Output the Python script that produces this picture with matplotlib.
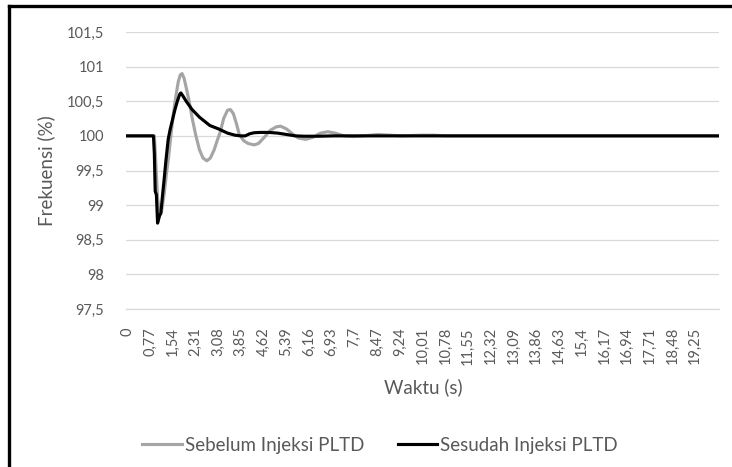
"""Frekuensi sebelum / sesudah injeksi PLTD (gaya grafik Excel)."""

import matplotlib

matplotlib.use("Agg")
import matplotlib.pyplot as plt
from matplotlib.lines import Line2D

plt.rcParams.update({
    "font.family": ["Lato", "DejaVu Sans"],
    "text.color": "#595959",
    "axes.labelcolor": "#595959",
    "xtick.color": "#595959",
    "ytick.color": "#595959",
})

# --- data ------------------------------------------------------------------
t_sebelum = [0, 0.92, 0.96, 1.03, 1.10, 1.16, 1.25, 1.33, 1.40, 1.48, 1.56,
             1.65, 1.73, 1.80, 1.86, 1.93, 2.01, 2.10, 2.21, 2.33, 2.45, 2.57,
             2.70, 2.82, 2.95, 3.05, 3.15, 3.27, 3.40, 3.50, 3.60, 3.70, 3.80,
             3.95, 4.10, 4.30, 4.45, 4.65, 4.85, 5.05, 5.20, 5.40, 5.60, 5.80,
             6.05, 6.30, 6.55, 6.80, 7.05, 7.35, 7.65, 8.0, 8.5, 8.9, 9.3,
             10.0, 10.4, 10.8, 20.02]
f_sebelum = [100, 100, 99.7, 99.1, 98.87, 98.9, 99.15, 99.45, 99.68, 100.0,
             100.3, 100.57, 100.78, 100.88, 100.90, 100.83, 100.68, 100.50,
             100.24, 100.0, 99.80, 99.68, 99.64, 99.68, 99.80, 99.93, 100.05,
             100.25, 100.37, 100.38, 100.32, 100.18, 100.02, 99.93, 99.89,
             99.87, 99.89, 99.98, 100.08, 100.13, 100.14, 100.10, 100.03,
             99.97, 99.95, 99.98, 100.04, 100.06, 100.04, 100.0, 99.99, 100.0,
             100.02, 100.01, 100.0, 100.01, 100.01, 100.0, 100.0]

t_sesudah = [0, 0.89, 0.92, 0.95, 0.99, 1.03, 1.10, 1.14, 1.20, 1.25, 1.31,
             1.39, 1.46, 1.54, 1.62, 1.70, 1.78, 1.82, 1.90, 2.0, 2.2, 2.45,
             2.8, 3.1, 3.4, 3.65, 3.85, 4.0, 4.15, 4.30, 4.50, 4.80, 5.10,
             5.40, 5.70, 6.0, 6.5, 7.0, 20.02]
f_sesudah = [100, 100, 99.75, 99.2, 99.15, 98.74, 98.85, 98.88, 99.15, 99.36,
             99.63, 99.95, 100.1, 100.24, 100.38, 100.50, 100.6, 100.62,
             100.57, 100.50, 100.38, 100.27, 100.15, 100.10, 100.04, 100.01,
             100.0, 100.0, 100.03, 100.045, 100.05, 100.05, 100.04, 100.02,
             100.0, 99.995, 99.995, 100.0, 100.0]

x_labels = ["0", "0,77", "1,54", "2,31", "3,08", "3,85", "4,62", "5,39",
            "6,16", "6,93", "7,7", "8,47", "9,24", "10,01", "10,78", "11,55",
            "12,32", "13,09", "13,86", "14,63", "15,4", "16,17", "16,94",
            "17,71", "18,48", "19,25"]
y_labels = ["97,5", "98", "98,5", "99", "99,5", "100", "100,5", "101", "101,5"]

# --- figure ------------------------------------------------------------------
W, H = 732, 467
fig = plt.figure(figsize=(W / 100, H / 100), dpi=100)
ax = fig.add_axes([126 / W, 1 - 309 / H, (719 - 126) / W, (309 - 32) / H])

ax.plot(t_sebelum, f_sebelum, color="#a5a5a5", lw=2.25,
        solid_joinstyle="round", label="Sebelum Injeksi PLTD", zorder=3)
ax.plot(t_sesudah, f_sesudah, color="black", lw=2.25,
        solid_joinstyle="round", label="Sesudah Injeksi PLTD", zorder=4)

yticks = [float(s.replace(",", ".")) for s in y_labels]
xticks = [float(s.replace(",", ".")) for s in x_labels]
ax.set_ylim(yticks[0], yticks[-1])
ax.set_xlim(-0.04, 20.06)
ax.set_yticks(yticks)
ax.set_yticklabels(y_labels, fontsize=10.5)
ax.set_xticks(xticks)
ax.set_xticklabels(x_labels, rotation=90, fontsize=10.5)
ax.tick_params(length=0)
ax.tick_params(axis="y", pad=16)
ax.tick_params(axis="x", pad=13)

ax.grid(axis="y", color="#d9d9d9", lw=0.9)
ax.set_axisbelow(True)
for side in ("top", "right", "left"):
    ax.spines[side].set_visible(False)
ax.spines["bottom"].set_color("#d9d9d9")
ax.spines["bottom"].set_linewidth(0.9)

ax.set_ylabel("Frekuensi (%)", fontsize=13.5, labelpad=8)
fig.text(423 / W, 1 - 387 / H, "Waktu (s)", fontsize=13.5,
         ha="center", va="center", color="#595959")

fig.legend(loc="center", bbox_to_anchor=(380 / W, 1 - 445 / H), ncol=2,
           frameon=False, fontsize=13.5, handlelength=2.1,
           handletextpad=0.15, columnspacing=1.8)

# bingkai luar (kiri dan atas)
fig.add_artist(Line2D([9 / W, 9 / W], [0, 1 - 6 / H], color="black",
                      lw=2.4, transform=fig.transFigure))
fig.add_artist(Line2D([9 / W, 1], [1 - 6 / H, 1 - 6 / H], color="black",
                      lw=2.4, transform=fig.transFigure))

fig.savefig("out.png", dpi=100)
